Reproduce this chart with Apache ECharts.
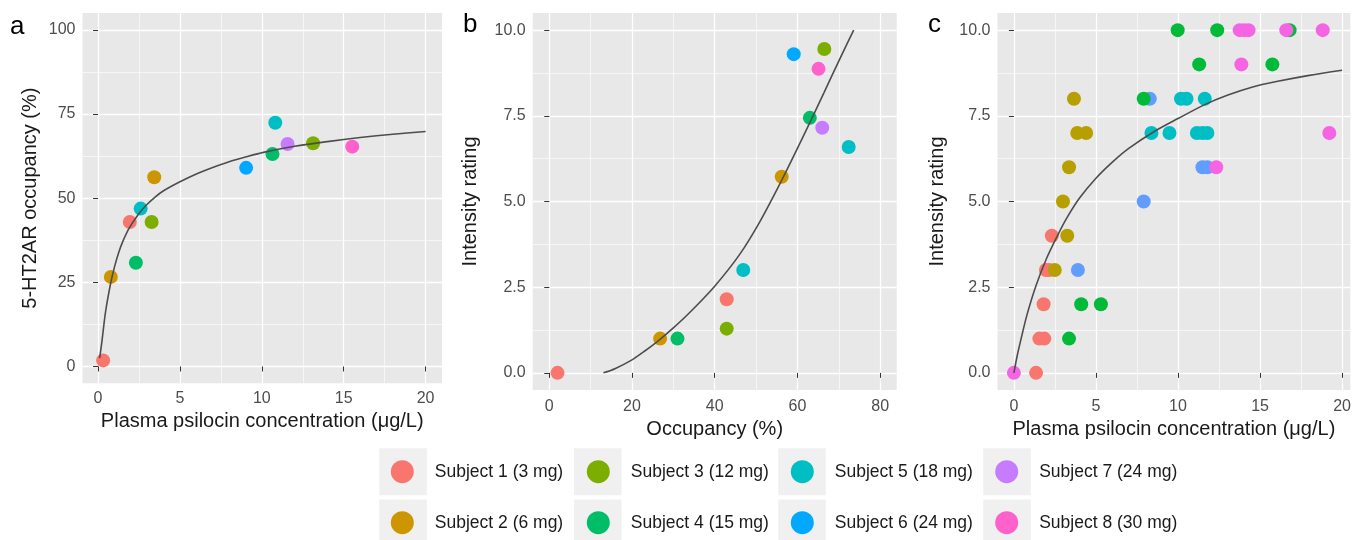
<!DOCTYPE html>
<html>
<head>
<meta charset="utf-8">
<script src="https://cdn.jsdelivr.net/npm/echarts@6/dist/echarts.min.js"></script>
<style>
  html, body { margin: 0; padding: 0; background: #ffffff; }
  #chart { width: 1354px; height: 540px; }
</style>
</head>
<body>
<div id="chart"></div>
<script>
// ---------------- DATA ----------------
const subjects = [
  'Subject 1 (3 mg)', 'Subject 2 (6 mg)', 'Subject 3 (12 mg)', 'Subject 4 (15 mg)',
  'Subject 5 (18 mg)', 'Subject 6 (24 mg)', 'Subject 7 (24 mg)', 'Subject 8 (30 mg)'
];

// Panel a: [plasma psilocin (ug/L), 5-HT2AR occupancy (%)]
const occS1 = [[0.31, 1.8], [1.94, 42.9]];
const occS2 = [[0.78, 26.6], [3.43, 56.2]];
const occS3 = [[3.27, 42.9], [13.13, 66.3]];
const occS4 = [[2.31, 30.8], [10.65, 63.1]];
const occS5 = [[2.6, 46.9], [10.82, 72.4]];
const occS6 = [[9.04, 59.0]];
const occS7 = [[11.57, 66.1]];
const occS8 = [[15.52, 65.3]];
const occFit = [[0.1, 2.5], [0.25, 8], [0.45, 16], [0.76, 24.5], [1.0, 29.5], [1.27, 34], [1.5, 37],
  [1.89, 41], [2.4, 44.8], [2.92, 47.8], [3.5, 50.4], [4.0, 52.2], [4.97, 54.8], [6.0, 57.2],
  [7.0, 59.1], [8.0, 60.8], [9.0, 62.2], [10.1, 63.6], [12, 65.4], [14, 66.8], [16, 68.0],
  [18, 69.0], [20, 69.8]];

// Panel b: [occupancy (%), intensity rating]
const intS1 = [[2.0, 0], [42.9, 2.15]];
const intS2 = [[26.8, 1.0], [56.2, 5.72]];
const intS3 = [[42.9, 1.29], [66.5, 9.45]];
const intS4 = [[31.0, 1.0], [63.0, 7.44]];
const intS5 = [[46.9, 3.0], [72.4, 6.59]];
const intS6 = [[59.1, 9.3]];
const intS7 = [[66.0, 7.15]];
const intS8 = [[65.1, 8.87]];
const intFit = [[13.1, 0], [16, 0.13], [20, 0.38], [23, 0.63], [26.5, 0.95], [30, 1.31], [34.2, 1.79],
  [40, 2.53], [46, 3.45], [51, 4.43], [56.2, 5.62], [60, 6.55], [63.2, 7.35], [66.4, 8.17],
  [70.4, 9.2], [73.6, 10.0]];

// Panel c: [plasma psilocin (ug/L), intensity rating]
const plS1 = [[1.35, 0], [1.55, 1], [1.85, 1], [1.81, 2], [1.95, 3], [2.15, 3], [2.31, 4]];
const plS2 = [[2.49, 3], [3.25, 4], [2.99, 5], [3.36, 6], [3.86, 7], [4.4, 7], [3.66, 8]];
const plS6 = [[3.9, 3], [7.91, 5], [11.49, 6], [11.79, 6], [8.28, 8]];
const plS5 = [[8.38, 7], [9.48, 7], [11.15, 7], [11.49, 7], [11.79, 7], [10.18, 8], [10.52, 8], [11.63, 8]];
const plS4 = [[3.36, 1], [4.1, 2], [5.3, 2], [7.91, 8], [11.29, 9], [15.75, 9], [9.98, 10], [12.39, 10], [16.8, 10]];
const plS8 = [[0, 0], [12.33, 6], [19.22, 7], [13.86, 9], [13.76, 10], [14.04, 10], [14.3, 10], [16.6, 10], [18.82, 10]];
const plFit = [[0, 0], [0.2, 0.5], [0.44, 1.0], [0.8, 1.7], [1.35, 2.55], [2, 3.35], [2.65, 4.0],
  [3.2, 4.5], [4, 5.1], [5, 5.68], [6, 6.15], [7, 6.55], [8.58, 7.05], [10, 7.42], [11.6, 7.82],
  [13, 8.1], [14.6, 8.35], [16, 8.5], [18, 8.68], [20, 8.83]];

// Tick labels
const ticksConc = [0, 5, 10, 15, 20];
const ticksOcc = [0, 25, 50, 75, 100];
const ticksOccX = [0, 20, 40, 60, 80];
const ticksRating = [0, 2.5, 5, 7.5, 10];

// ---------------- STYLE ----------------
const FONT = "'Liberation Sans', Arial, Helvetica, sans-serif";
const colorsAB = ['#F8766D', '#CD9600', '#7CAE00', '#00BE67', '#00BFC4', '#00A9FF', '#C77CFF', '#FF61CC'];
const colC = { s1: '#F8766D', s2: '#B79F00', s4: '#00BA38', s5: '#00BFC4', s6: '#619CFF', s8: '#F564E3' };
const PANEL_BG = '#E8E8E8';

function axisCommon(extra) {
  return Object.assign({
    type: 'value',
    axisLine: { show: false },
    axisTick: { show: true, length: 5, lineStyle: { color: '#333333', width: 1 } },
    axisLabel: { color: '#4D4D4D', fontSize: 16, fontFamily: FONT, showMinLabel: true, showMaxLabel: true },
    splitLine: { show: true, lineStyle: { color: '#FFFFFF', width: 1.3 } },
    minorTick: { show: false, splitNumber: 2 },
    minorSplitLine: { show: true, lineStyle: { color: '#FFFFFF', width: 0.6 } },
    nameLocation: 'middle',
    nameTextStyle: { color: '#1A1A1A', fontSize: 20, fontFamily: FONT }
  }, extra);
}

function xAx(idx, min, max, step, ticks, name, margin, gap, fmt) {
  const a = axisCommon({
    gridIndex: idx, min: min, max: max, minInterval: step, maxInterval: step,
    name: name, nameGap: gap
  });
  a.axisTick = Object.assign({}, a.axisTick, { customValues: ticks });
  a.axisLabel = Object.assign({}, a.axisLabel, { customValues: ticks, margin: margin, formatter: fmt });
  return a;
}
function yAx(idx, min, max, step, ticks, name, gap, fmt) {
  const a = axisCommon({
    gridIndex: idx, min: min, max: max, minInterval: step, maxInterval: step,
    name: name, nameGap: gap
  });
  a.axisTick = Object.assign({}, a.axisTick, { customValues: ticks });
  a.axisLabel = Object.assign({}, a.axisLabel, { customValues: ticks, margin: 7, formatter: fmt });
  return a;
}

function sc(idx, name, data, color) {
  return {
    type: 'scatter', name: name, xAxisIndex: idx, yAxisIndex: idx, data: data,
    symbol: 'circle', symbolSize: 14, itemStyle: { color: color, opacity: 1 },
    emphasis: { disabled: true }, silent: true, z: 2, clip: false
  };
}
function fit(idx, data) {
  return {
    type: 'line', name: 'fit', xAxisIndex: idx, yAxisIndex: idx, data: data,
    showSymbol: false, smooth: 0.3, lineStyle: { color: '#4D4D4D', width: 1.6 },
    emphasis: { disabled: true }, silent: true, z: 3
  };
}

const intFmt = v => String(Math.round(v));
const oneDec = v => v.toFixed(1);

const series = [
  sc(0, subjects[0], occS1, colorsAB[0]), sc(0, subjects[1], occS2, colorsAB[1]),
  sc(0, subjects[2], occS3, colorsAB[2]), sc(0, subjects[3], occS4, colorsAB[3]),
  sc(0, subjects[4], occS5, colorsAB[4]), sc(0, subjects[5], occS6, colorsAB[5]),
  sc(0, subjects[6], occS7, colorsAB[6]), sc(0, subjects[7], occS8, colorsAB[7]),
  fit(0, occFit),
  sc(1, subjects[0], intS1, colorsAB[0]), sc(1, subjects[1], intS2, colorsAB[1]),
  sc(1, subjects[2], intS3, colorsAB[2]), sc(1, subjects[3], intS4, colorsAB[3]),
  sc(1, subjects[4], intS5, colorsAB[4]), sc(1, subjects[5], intS6, colorsAB[5]),
  sc(1, subjects[6], intS7, colorsAB[6]), sc(1, subjects[7], intS8, colorsAB[7]),
  fit(1, intFit),
  sc(2, subjects[0], plS1, colC.s1), sc(2, subjects[1], plS2, colC.s2),
  sc(2, subjects[5], plS6, colC.s6), sc(2, subjects[4], plS5, colC.s5),
  sc(2, subjects[3], plS4, colC.s4), sc(2, subjects[7], plS8, colC.s8),
  fit(2, plFit)
];

// legend layout: column-major 2 rows x 4 columns
const legCx = [402.3, 598.3, 802.3, 1006.7];
const legCy = [471.7, 522.7];
const boxX = [379.3, 574, 778.3, 983.3];
const boxY = [448.3, 499.5];
const legends = [];
const graphics = [];
for (let i = 0; i < subjects.length; i++) {
  const col = Math.floor(i / 2), row = i % 2;
  legends.push({
    data: [{ name: subjects[i], icon: 'circle' }],
    left: legCx[col] - 11.5, top: legCy[row] - 11.5,
    itemWidth: 23, itemHeight: 23, padding: 0, selectedMode: false, z: 10,
    textStyle: { color: '#1A1A1A', fontSize: 17.5, fontFamily: FONT, padding: [0, 0, 0, 16] }
  });
  graphics.push({
    type: 'rect', z: 1, silent: true,
    shape: { x: boxX[col], y: boxY[row], width: 47.5, height: 47 },
    style: { fill: '#F0F0F0' }
  });
}
[['a', 10, 27], ['b', 463, 25], ['c', 928, 25]].forEach(t => {
  graphics.push({
    type: 'text', z: 1, silent: true,
    style: { text: t[0], x: t[1], y: t[2], font: '26px ' + FONT, fill: '#000000', verticalAlign: 'middle' }
  });
});

const option = {
  animation: false,
  backgroundColor: '#FFFFFF',
  grid: [
    { left: 82.5, top: 13, width: 359.5, height: 370.3, show: true, backgroundColor: PANEL_BG, borderWidth: 0 },
    { left: 532.7, top: 13, width: 364, height: 377, show: true, backgroundColor: PANEL_BG, borderWidth: 0 },
    { left: 997.5, top: 13, width: 356.5, height: 377, show: true, backgroundColor: PANEL_BG, borderWidth: 0 }
  ],
  xAxis: [
    xAx(0, -0.95, 21, 5, ticksConc, 'Plasma psilocin concentration (\u03bcg/L)', 7, 27, intFmt),
    xAx(1, -4, 84, 20, ticksOccX, 'Occupancy (%)', 9, 29, intFmt),
    xAx(2, -1, 20.5, 5, ticksConc, 'Plasma psilocin concentration (\u03bcg/L)', 9, 29, intFmt)
  ],
  yAxis: [
    yAx(0, -5, 105, 25, ticksOcc, '5-HT2AR occupancy (%)', 42, intFmt),
    yAx(1, -0.5, 10.5, 2.5, ticksRating, 'Intensity rating', 52, oneDec),
    yAx(2, -0.5, 10.5, 2.5, ticksRating, 'Intensity rating', 50, oneDec)
  ],
  legend: legends,
  graphic: graphics,
  series: series
};

const chart = echarts.init(document.getElementById('chart'), null, { renderer: 'canvas' });
chart.setOption(option);
</script>
</body>
</html>
